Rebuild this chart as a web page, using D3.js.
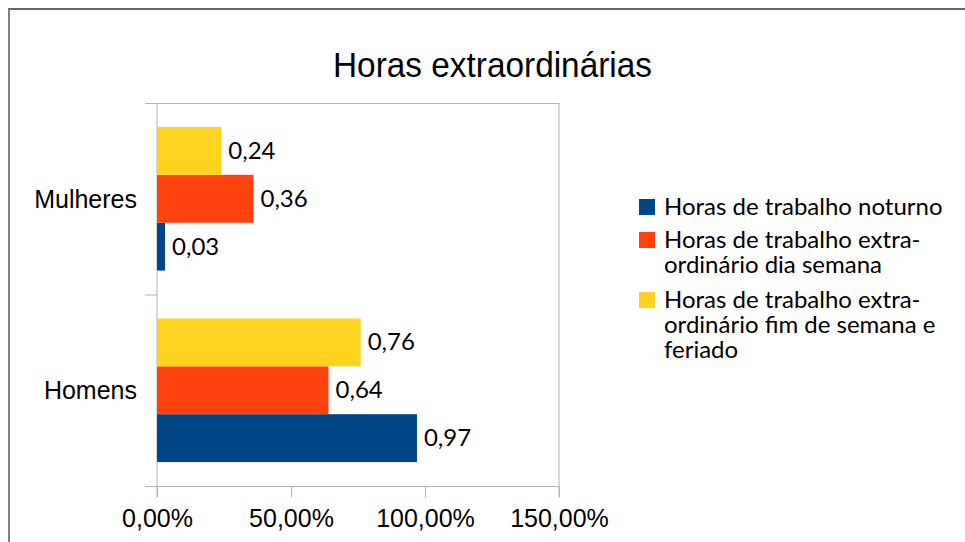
<!DOCTYPE html>
<html><head><meta charset="utf-8">
<script src="https://cdn.jsdelivr.net/npm/d3@7"></script>
<style>body{margin:0;background:#fff}svg{display:block}</style>
</head><body>
<script>
const title = "Horas extraordinárias";
const categories = ["Mulheres", "Homens"];
const seriesNames = ["Horas de trabalho noturno", "Horas de trabalho extra-ordinário dia semana", "Horas de trabalho extra-ordinário fim de semana e feriado"];
const legendLines = [["Horas de trabalho noturno"], ["Horas de trabalho extra-", "ordinário dia semana"], ["Horas de trabalho extra-", "ordinário fim de semana e", "feriado"]];
const seriesColors = ["#004586", "#ff420e", "#ffd320"];
const noturno = [0.03, 0.97];
const diaSemana = [0.36, 0.64];
const fimSemana = [0.24, 0.76];
const xTicks = [0, 0.5, 1, 1.5];
const xTickLabels = ["0,00%", "50,00%", "100,00%", "150,00%"];

const values = [noturno, diaSemana, fimSemana];
const W = 965, H = 542;
const svg = d3.select("body").append("svg").attr("width", W).attr("height", H);
svg.append("rect").attr("width", W).attr("height", H).attr("fill", "#fff");

// outer frame
svg.append("line").attr("x1", 8).attr("x2", W).attr("y1", 9).attr("y2", 9).attr("stroke", "#333").attr("stroke-width", 1.5);
svg.append("line").attr("x1", 9).attr("x2", 9).attr("y1", 9).attr("y2", H).attr("stroke", "#808080").attr("stroke-width", 2);

const L = 157, R = 559, T = 103, B = 486;
const x = d3.scaleLinear().domain([0, 1.5]).range([L, R]);
const y = d3.scaleBand().domain(categories).range([T, B]);
const inner = d3.scaleBand().domain([2, 1, 0]).range([0, y.bandwidth()]).paddingOuter(0.5).paddingInner(0);

const axisColor = "#b3b3b3";
svg.append("line").attr("x1", 145).attr("x2", R).attr("y1", T + 0.5).attr("y2", T + 0.5).attr("stroke", axisColor);
svg.append("line").attr("x1", R).attr("x2", R).attr("y1", T).attr("y2", B + 11).attr("stroke", axisColor);
const yBoundaries = [T, T + y.bandwidth(), B];
svg.append("line").attr("x1", L).attr("x2", L).attr("y1", T).attr("y2", B + 11).attr("stroke", axisColor);
yBoundaries.forEach(v => svg.append("line").attr("x1", 145).attr("x2", L).attr("y1", v + 0.5).attr("y2", v + 0.5).attr("stroke", axisColor));
const xAxis = d3.axisBottom(x).tickValues(xTicks).tickFormat((d, i) => xTickLabels[i]).tickSize(11).tickPadding(12);
const gx = svg.append("g").attr("transform", `translate(0,${B + 0.5})`).call(xAxis);
gx.select(".domain").attr("stroke", axisColor).attr("d", `M145,0H${R}`);
gx.selectAll(".tick line").attr("stroke", axisColor);
gx.selectAll(".tick text").attr("font-family", "Liberation Sans, Arial").attr("font-size", 25).attr("fill", "#000");

svg.selectAll(".cat").data(categories).enter().append("text")
  .attr("x", 137).attr("y", d => y(d) + y.bandwidth() / 2 + 9)
  .attr("text-anchor", "end").attr("font-family", "Liberation Sans, Arial").attr("font-size", 25).attr("fill", "#000")
  .text(d => d);

values.forEach((vals, s) => {
  const g = svg.append("g");
  g.selectAll("rect").data(categories).enter().append("rect")
    .attr("x", x(0)).attr("y", (c) => y(c) + inner(s))
    .attr("width", (c, i) => x(vals[i]) - x(0)).attr("height", inner.bandwidth())
    .attr("fill", seriesColors[s]);
  g.selectAll("text").data(categories).enter().append("text")
    .attr("x", (c, i) => x(vals[i]) + 7).attr("y", (c) => y(c) + inner(s) + inner.bandwidth() / 2 + 8)
    .attr("font-family", "Lato, Carlito, sans-serif").attr("font-size", 24).attr("fill", "#000")
    .text((c, i) => vals[i].toFixed(2).replace(".", ","));
});

svg.append("text").attr("x", 492.5).attr("y", 77).attr("text-anchor", "middle")
  .attr("font-family", "Liberation Sans, Arial").attr("font-size", 35).attr("fill", "#000")
  .attr("textLength", 319).attr("lengthAdjust", "spacingAndGlyphs")
  .text(title);

const legendBaselines = [[215], [248, 273], [308, 333, 358]];
legendLines.forEach((lines, s) => {
  const b0 = legendBaselines[s][0];
  svg.append("rect").attr("x", 639).attr("y", b0 - 16).attr("width", 16).attr("height", 16).attr("fill", seriesColors[s]);
  const t = svg.append("text").attr("font-family", "Lato, Carlito, sans-serif").attr("font-size", 24).attr("fill", "#000");
  lines.forEach((ln, j) => {
    t.append("tspan").attr("x", 664).attr("y", legendBaselines[s][j]).text(ln);
  });
});
</script>
</body></html>
